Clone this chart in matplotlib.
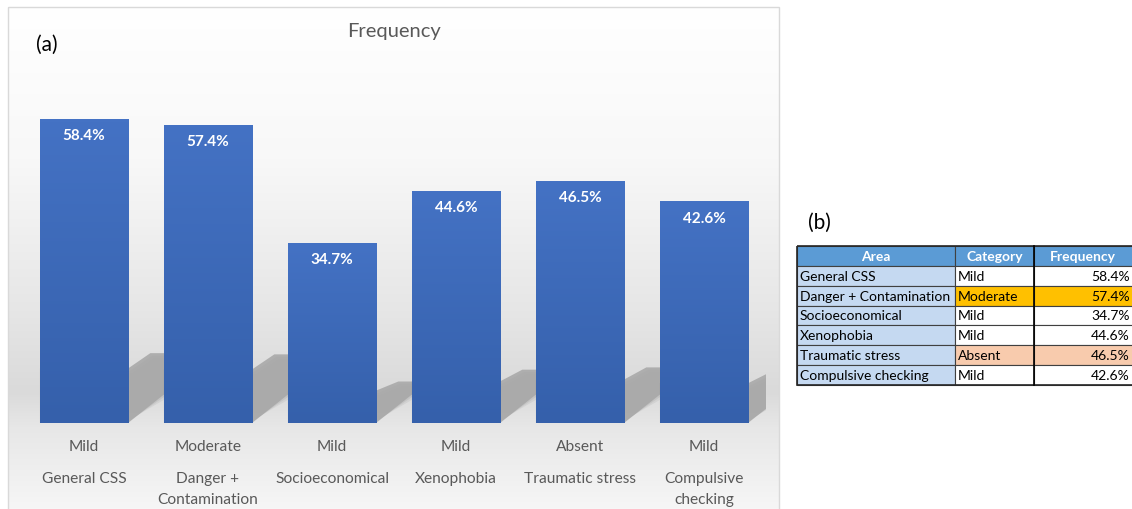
import numpy as np
import matplotlib.pyplot as plt
from matplotlib.patches import Rectangle, Polygon
from matplotlib.colors import LinearSegmentedColormap
import matplotlib.transforms as mtransforms

plt.rcParams['font.family'] = ['Lato', 'DejaVu Sans']

# data
areas = ['General CSS', 'Danger +\nContamination', 'Socioeconomical', 'Xenophobia',
         'Traumatic stress', 'Compulsive\nchecking']
table_areas = ['General CSS', 'Danger + Contamination', 'Socioeconomical', 'Xenophobia',
               'Traumatic stress', 'Compulsive checking']
categories = ['Mild', 'Moderate', 'Mild', 'Mild', 'Absent', 'Mild']
freq = [58.4, 57.4, 34.7, 44.6, 46.5, 42.6]
cat_fill = {'Mild': 'white', 'Moderate': '#ffc000', 'Absent': '#f8cbad'}

W, H = 1132, 510
fig = plt.figure(figsize=(W / 100, H / 100), dpi=100)

# pixel-space background axes
bg = fig.add_axes([0, 0, 1, 1])
bg.set_xlim(0, W)
bg.set_ylim(H, 0)
bg.axis('off')

# chart panel gradient + border
grad = LinearSegmentedColormap.from_list('g', [(0, '#ffffff'), (0.3, '#f8f8f8'),
                                               (0.6, '#e6e6e6'), (0.76, '#dadada'),
                                               (0.83, '#e7e7e7'), (1, '#f7f7f7')])
bg.imshow(np.linspace(0, 1, 256).reshape(-1, 1), cmap=grad, aspect='auto',
          extent=(8, 779, 515, 8), zorder=0)
bg.add_patch(Rectangle((8, 8), 771, 510, fill=False, ec='#d9d9d9', lw=1, zorder=1))

bg.text(394, 32, 'Frequency', ha='center', va='center', fontsize=14.5, color='#595959')
bg.text(47, 45, '(a)', ha='center', va='center', fontsize=15, color='black')
bg.text(819, 223, '(b)', ha='center', va='center', fontsize=15, color='black')

# bar axes
px_per = 5.2
base_y, top_val = 424, 68
ax = fig.add_axes([22 / W, (H - base_y) / H, 744 / W, top_val * px_per / H])
ax.set_xlim(-0.5, 5.5)
ax.set_ylim(0, top_val)
ax.axis('off')
ax.patch.set_alpha(0)

x = np.arange(len(freq))
bw = 0.71

# soft shadows cast up and to the right of each bar
for xi, h in zip(x, freq):
    xl, xr = xi - bw / 2, xi + bw / 2
    k = 0.23 * h
    for d, a in [(0.03, 0.2), (0.015, 0.3), (0.0, 0.85)]:
        pts = [(xl, 0), (xr - d, 0), (xr + 0.45, 8.5 - d * 60), (xr + 0.45, k - d * 30),
               (xr + 0.18 + d, k - d * 30), (xr + d, k * 0.78 - d * 30), (xl, k * 0.78)]
        ax.add_patch(Polygon(pts, closed=True, fc='#a6a6a6', ec='none', alpha=a, zorder=1))

bar_cmap = LinearSegmentedColormap.from_list('b', ['#4472c4', '#3560ab'])
bars = ax.bar(x, freq, width=bw, color='#4472c4', ec='#8eaadb', lw=0.7, zorder=2)
for b, h in zip(bars, freq):
    im = ax.imshow(np.linspace(0, 1, 100).reshape(-1, 1), cmap=bar_cmap, aspect='auto',
                   extent=(b.get_x(), b.get_x() + b.get_width(), 0, h), zorder=2.5)
    im.set_clip_path(b)
    ax.text(b.get_x() + b.get_width() / 2, h - 3.1, f'{h:.1f}%', ha='center', va='center',
            color='white', fontsize=11, fontweight='bold', zorder=3)

ax.set_xlim(-0.5, 5.5)
ax.set_ylim(0, top_val)

tr = mtransforms.blended_transform_factory(ax.transData, bg.transData)
for xi, c, a in zip(x, categories, areas):
    ax.text(xi, 447, c, transform=tr, ha='center', va='center', fontsize=11.2,
            color='#595959')
    for li, line in enumerate(a.split('\n')):
        ax.text(xi, 479 + 21 * li, line, transform=tr, ha='center', va='center',
                fontsize=11.2, color='#595959')

# table (b)
cols = [797, 955, 1034, 1134]
row_h = 19.85
top = 247
headers = ['Area', 'Category', 'Frequency']
for ci in range(3):
    bg.add_patch(Rectangle((cols[ci], top), cols[ci + 1] - cols[ci], row_h,
                           fc='#5b9bd5', ec='#404040', lw=0.8, zorder=2))
hx = [(cols[0] + cols[1]) / 2, (cols[1] + cols[2]) / 2, 1083]
for hxi, hd in zip(hx, headers):
    bg.text(hxi, top + row_h / 2, hd, ha='center', va='center',
            color='white', fontweight='bold', fontsize=10, zorder=3)

for ri, (a, c, f) in enumerate(zip(table_areas, categories, freq)):
    y0 = top + row_h * (ri + 1)
    yc = y0 + row_h / 2
    bg.add_patch(Rectangle((cols[0], y0), cols[1] - cols[0], row_h, fc='#c5d9f1',
                           ec='#404040', lw=0.8, zorder=2))
    bg.add_patch(Rectangle((cols[1], y0), cols[2] - cols[1], row_h, fc=cat_fill[c],
                           ec='#404040', lw=0.8, zorder=2))
    bg.add_patch(Rectangle((cols[2], y0), cols[3] - cols[2], row_h, fc=cat_fill[c],
                           ec='#404040', lw=0.8, zorder=2))
    bg.text(cols[0] + 3, yc, a, ha='left', va='center', fontsize=10, color='black', zorder=3)
    bg.text(cols[1] + 3, yc, c, ha='left', va='center', fontsize=10, color='black', zorder=3)
    bg.text(1130, yc, f'{f:.1f}%', ha='right', va='center', fontsize=10, color='black',
            zorder=3)

bg.add_patch(Rectangle((cols[0], top), cols[3] - cols[0], row_h * 7, fill=False,
                       ec='#262626', lw=1.2, zorder=4))
bg.plot([cols[2], cols[2]], [top, top + row_h * 7], color='black', lw=1.2, zorder=4)

fig.savefig('out.png', dpi=100)
